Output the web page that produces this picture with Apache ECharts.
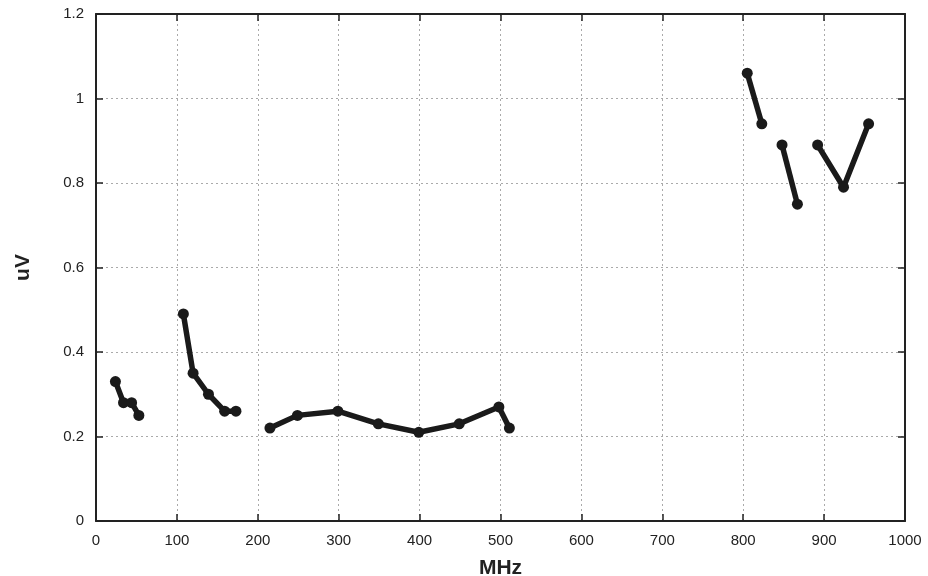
<!DOCTYPE html>
<html>
<head>
    <meta charset="utf-8">
    <script src="https://cdn.jsdelivr.net/npm/echarts@6/dist/echarts.min.js"></script>
    <style>
        * { margin: 0; padding: 0; }
        body { background: #fff; }
        #chart { width: 928px; height: 576px; }
    </style>
</head>
<body>
    <div id="chart"></div>
    <script>
        // segments of the measured curve [MHz, uV]
        const band1 = [[24, 0.33], [34, 0.28], [44, 0.28], [53, 0.25]];
        const band2 = [[108, 0.49], [120, 0.35], [139, 0.30], [159, 0.26], [173, 0.26]];
        const band3 = [[215, 0.22], [249, 0.25], [299, 0.26], [349, 0.23], [399, 0.21], [449, 0.23], [498, 0.27], [511, 0.22]];
        const band4 = [[805, 1.06], [823, 0.94]];
        const band5 = [[848, 0.89], [867, 0.75]];
        const band6 = [[892, 0.89], [924, 0.79], [955, 0.94]];
        const bands = [band1, band2, band3, band4, band5, band6];

        const axisFont = { fontFamily: 'Liberation Sans, Arial, sans-serif', fontSize: 15, color: '#222' };
        const frame = { show: true, onZero: false, lineStyle: { color: '#222', width: 2 } };
        const ticks = { inside: true, length: 7, lineStyle: { color: '#222', width: 1.5 } };
        const grid = { show: true, lineStyle: { color: '#aaa', type: [2, 3], width: 1 } };
        const nameFont = { fontFamily: 'Liberation Sans, Arial, sans-serif', fontSize: 21, fontWeight: 'bold', color: '#222' };

        const chart = echarts.init(document.getElementById('chart'));
        chart.setOption({
            animation: false,
            grid: { left: 96, right: 23, top: 14, bottom: 55, outerBoundsMode: 'none' },
            xAxis: [{
                type: 'value', min: 0, max: 1000, interval: 100,
                name: 'MHz', nameLocation: 'middle', nameGap: 37, nameTextStyle: nameFont,
                axisLine: frame, axisTick: ticks,
                axisLabel: Object.assign({ margin: 12, formatter: v => String(v) }, axisFont), splitLine: grid
            }, {
                type: 'value', min: 0, max: 1000, interval: 100, position: 'top',
                axisLine: frame, axisTick: ticks,
                axisLabel: { show: false }, splitLine: { show: false }
            }],
            yAxis: [{
                type: 'value', min: 0, max: 1.2, interval: 0.2,
                name: 'uV', nameLocation: 'middle', nameGap: 62, nameTextStyle: nameFont,
                axisLine: frame, axisTick: ticks,
                axisLabel: Object.assign({ margin: 12 }, axisFont), splitLine: grid
            }, {
                type: 'value', min: 0, max: 1.2, interval: 0.2, position: 'right',
                axisLine: frame, axisTick: ticks,
                axisLabel: { show: false }, splitLine: { show: false }
            }],
            series: bands.map(b => ({
                type: 'line',
                data: b,
                symbol: 'circle',
                symbolSize: 11,
                lineStyle: { color: '#1a1a1a', width: 5.5 },
                itemStyle: { color: '#1a1a1a' }
            }))
        });
    </script>
</body>
</html>
